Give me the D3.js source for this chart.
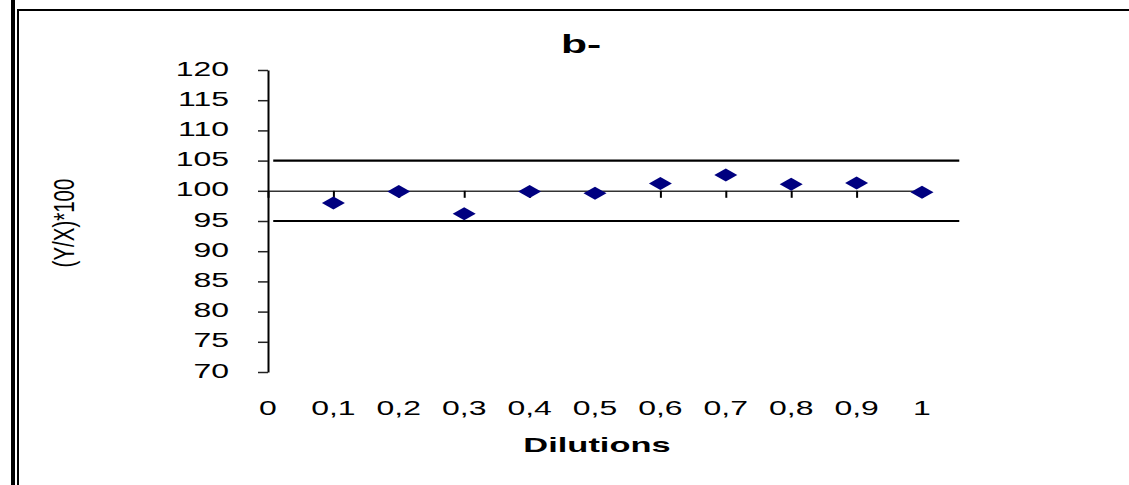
<!DOCTYPE html>
<meta charset="utf-8">
<script src="https://cdn.jsdelivr.net/npm/d3@7"></script>
<style>
body { margin: 0; background: #fff; }
text { font-family: "Liberation Sans", Arial, sans-serif; fill: #000; }
.axis--y .domain { stroke: #000; stroke-width: 2; }
.axis--y .tick line { stroke: #222; stroke-width: 1.5; }
.axis--x .domain { stroke: #333; stroke-width: 1.5; }
.axis--x .tick line { stroke: #000; stroke-width: 2; }
</style>
<body>
<script>

var width = 1129
var height = 485
var sx = 1.64   // the original picture is stretched sideways

// data
var dilutions = [0.1, 0.2, 0.3, 0.4, 0.5, 0.6, 0.7, 0.8, 0.9, 1]
var ratios = [98.0, 99.9, 96.2, 99.9, 99.6, 101.2, 102.6, 101.1, 101.3, 99.75]
var yTicks = [70, 75, 80, 85, 90, 95, 100, 105, 110, 115, 120]
var xTicks = [0, 0.1, 0.2, 0.3, 0.4, 0.5, 0.6, 0.7, 0.8, 0.9, 1]
var xTickLabels = ["0", "0,1", "0,2", "0,3", "0,4", "0,5", "0,6", "0,7", "0,8", "0,9", "1"]
var limits = [95, 105]
var limitSpan = [0.008, 1.057]

var svg = d3.select("body").append("svg")
            .attr("width", width)
            .attr("height", height)
            .style("display", "block")

// frame
svg.append("rect").attr("x", 11).attr("y", 0).attr("width", 4).attr("height", height).attr("fill", "#000")
svg.append("rect").attr("x", 17).attr("y", 9).attr("width", 2).attr("height", height - 9).attr("fill", "#000")
svg.append("rect").attr("x", 17).attr("y", 9).attr("width", width - 17).attr("height", 2).attr("fill", "#000")

var x = d3.scaleLinear().domain([0, 1]).range([268, 922])
var y = d3.scaleLinear().domain([70, 120]).range([372, 70])

// limit lines
svg.selectAll(".limit")
    .data(limits)
    .enter().append("line")
      .attr("class", "limit")
      .attr("x1", x(limitSpan[0]))
      .attr("x2", x(limitSpan[1]))
      .attr("y1", function(d) { return y(d); })
      .attr("y2", function(d) { return y(d); })
      .attr("stroke", "#000")
      .attr("stroke-width", 2.2)

// y axis
var gy = svg.append("g")
    .attr("class", "axis axis--y")
    .attr("transform", "translate(" + x(0) + ",0)")
    .call(d3.axisLeft(y).tickValues(yTicks).tickSize(10).tickSizeOuter(0))
gy.selectAll(".tick text")
    .attr("x", 0)
    .attr("dy", null)
    .attr("transform", "translate(-39,5) scale(" + sx + ",1)")
    .style("font-size", "19.5px")
    .style("text-anchor", "end")

// x axis crossing at 100
svg.append("g")
    .attr("class", "axis axis--x")
    .attr("transform", "translate(0," + y(100) + ")")
    .call(d3.axisBottom(x).tickValues(xTicks).tickSize(7).tickSizeOuter(0).tickFormat(""))

// x tick labels sit at the bottom
svg.append("g").selectAll("text")
    .data(xTicks)
    .enter().append("text")
      .attr("transform", function(d) { return "translate(" + x(d) + ",415) scale(" + sx + ",1)"; })
      .attr("text-anchor", "middle")
      .style("font-size", "19.5px")
      .text(function(d, i) { return xTickLabels[i]; })

// points
svg.selectAll(".pt")
    .data(dilutions)
    .enter().append("path")
      .attr("class", "pt")
      .attr("d", "M-11.5,0L0,-6.5L11.5,0L0,6.5Z")
      .attr("transform", function(d, i) { return "translate(" + x(d) + "," + y(ratios[i]) + ")"; })
      .attr("fill", "#000080")

// titles
svg.append("text")
    .attr("transform", "translate(581,53) scale(" + sx + ",1)")
    .attr("text-anchor", "middle")
    .style("font-size", "26px")
    .style("font-weight", "bold")
    .text("b-")

svg.append("text")
    .attr("transform", "translate(597,452) scale(" + sx + ",1)")
    .attr("text-anchor", "middle")
    .style("font-size", "21px")
    .style("font-weight", "bold")
    .text("Dilutions")

svg.append("text")
    .attr("transform", "translate(74,223) scale(1.4,1) rotate(-90)")
    .attr("text-anchor", "middle")
    .style("font-size", "20.5px")
    .text("(Y/X)*100")

</script>
</body>
